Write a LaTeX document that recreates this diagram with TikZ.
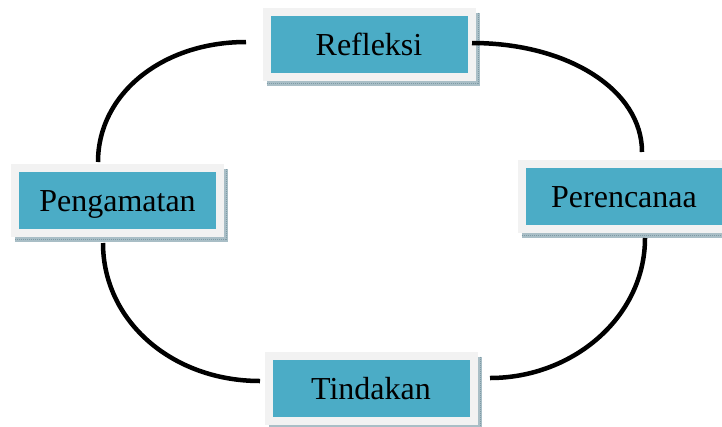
\documentclass[tikz,border=0pt]{standalone}
\usepackage{fontspec}
\setmainfont{Liberation Serif}
\usetikzlibrary{backgrounds}
\definecolor{boxteal}{HTML}{4BACC6}
\definecolor{boxrim}{HTML}{F2F2F2}
\definecolor{shadowc}{HTML}{A9BEC6}
\definecolor{shadowdot}{HTML}{7E9BA6}
\begin{document}
\begin{tikzpicture}[x=1pt,y=-1pt,
  box/.style={fill=boxteal, draw=boxrim, line width=8pt, minimum width=205pt,
    minimum height=65pt, inner sep=0pt, font=\fontsize{32}{36}\selectfont,
    text height=22pt, text depth=0pt},
  link/.style={line width=4.5pt, black}]
\useasboundingbox (0,0) rectangle (722,426);
\node[box] (r) at (369,44) {Refleksi};
\node[box] (c) at (624,196) {Perencanaa};
\node[box] (t) at (371,388) {Tindakan};
\node[box] (p) at (117.5,200.5) {Pengamatan};
\begin{scope}[on background layer]
\foreach \n in {r,c,t,p}{
  \fill[shadowc] ([xshift=4pt,yshift=-5pt]\n.south west) rectangle ([xshift=4pt,yshift=-5pt]\n.north east);
  \draw[shadowdot, line width=0.8pt, dash pattern=on 1pt off 1pt]
    ([xshift=4pt,yshift=-2.5pt]\n.south west) -- ([xshift=2pt,yshift=-2.5pt]\n.south east);
  \draw[shadowdot, line width=0.8pt, dash pattern=on 1pt off 1pt]
    ([xshift=2.5pt,yshift=-5pt]\n.north east) -- ([xshift=2.5pt,yshift=-2.5pt]\n.south east);
}
\end{scope}
\coordinate (a1) at (246,42);  \coordinate (a2) at (98,162);
\coordinate (b1) at (472,43);  \coordinate (b2) at (642,152);
\coordinate (d1) at (645,238); \coordinate (d2) at (490,378);
\coordinate (e1) at (103,243); \coordinate (e2) at (260,381);
\draw[link] (a1) .. controls (162,42) and (98,94) .. (a2);
\draw[link] (b1) .. controls (568,43) and (642,90) .. (b2);
\draw[link] (d1) .. controls (645,317) and (573,378) .. (d2);
\draw[link] (e1) .. controls (103,321) and (172,381) .. (e2);
\end{tikzpicture}
\end{document}
